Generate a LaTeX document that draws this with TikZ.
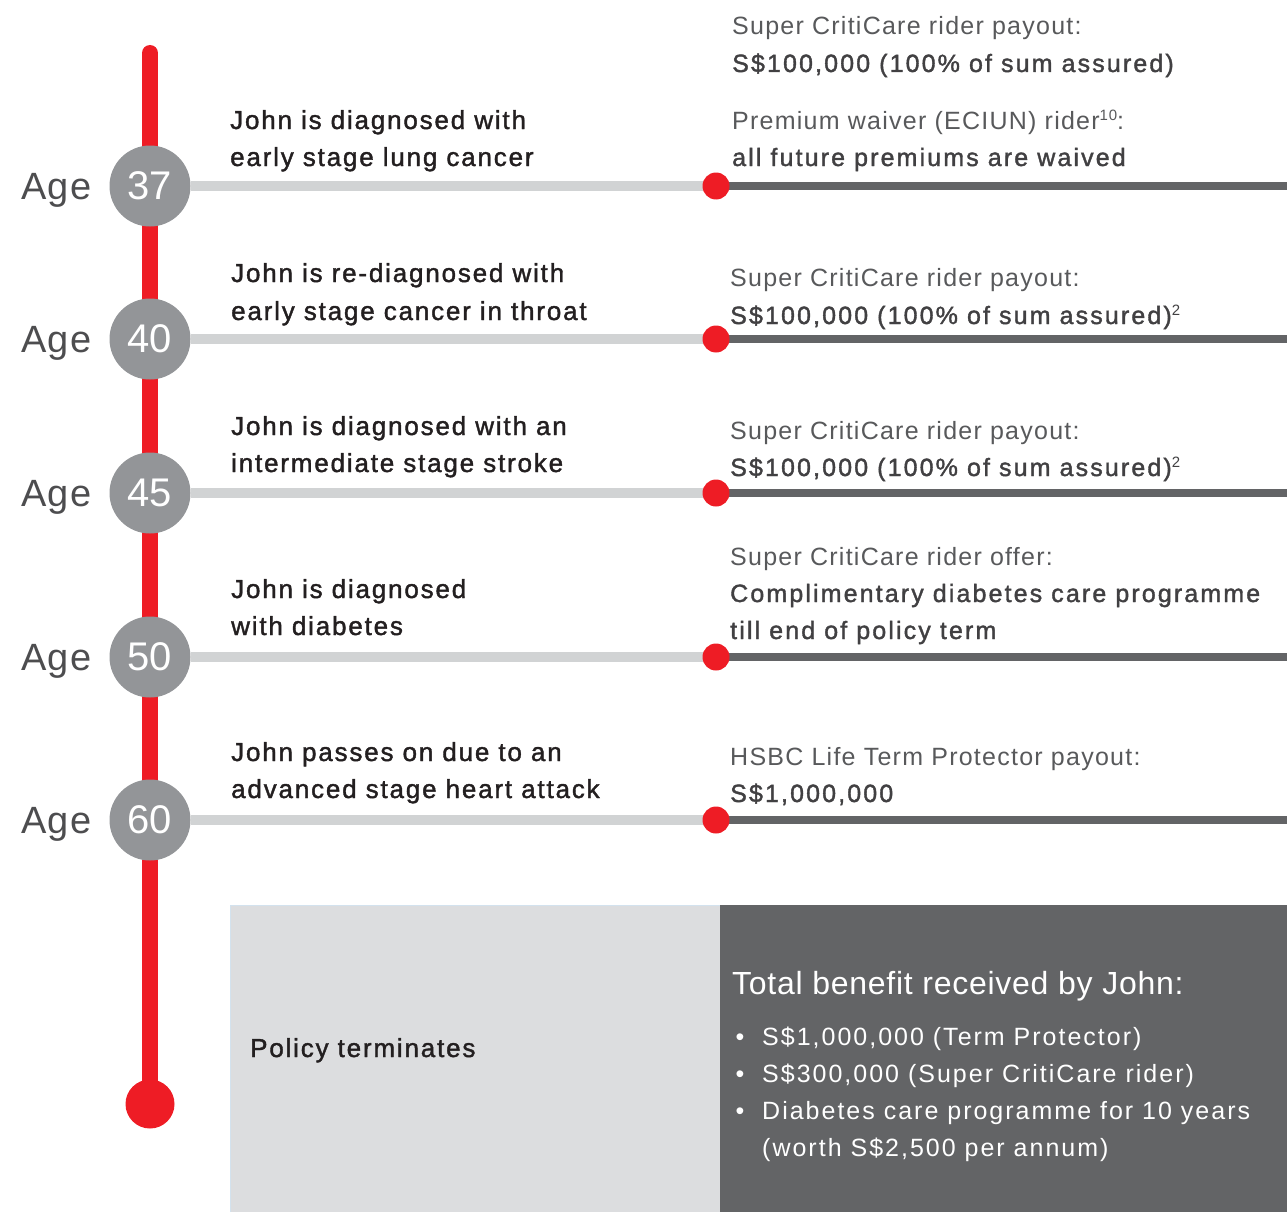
\documentclass[tikz,border=0pt]{standalone}
\usepackage{fontspec}
\setmainfont{Liberation Sans}
\newfontfamily\medfont{Liberation Sans}[FakeBold=1.5, LetterSpace=7]
\newfontfamily\rbfont{Liberation Sans}[FakeBold=1.5, LetterSpace=8.5]
\newfontfamily\regfont{Liberation Sans}[LetterSpace=5]
\newfontfamily\bulfont{Liberation Sans}[LetterSpace=8]
\newfontfamily\agefont{Liberation Sans}[LetterSpace=4]
\newfontfamily\titfont{Liberation Sans}[LetterSpace=2.3]
\usetikzlibrary{backgrounds}
\definecolor{hsred}{HTML}{EE1C25}
\definecolor{circgrey}{HTML}{939598}
\definecolor{lgline}{HTML}{D1D3D4}
\definecolor{dgline}{HTML}{636466}
\definecolor{agegrey}{HTML}{4D4D4F}
\definecolor{textgrey}{HTML}{58595B}
\definecolor{darktext}{HTML}{414042}
\definecolor{nearblack}{HTML}{231F20}
\definecolor{boxlight}{HTML}{DCDDDF}
\definecolor{boxedge}{HTML}{D3E2EE}
\definecolor{boxdark}{HTML}{636466}
\begin{document}
\begin{tikzpicture}[x=1pt,y=-1pt,
  agelbl/.style={anchor=base east, inner sep=0, font=\agefont\fontsize{38}{40}\selectfont, text=agegrey},
  agecirc/.style={circle, fill=circgrey, minimum size=81pt, inner sep=0, text=white, font=\fontsize{40}{40}\selectfont},
  reddot/.style={circle, fill=hsred, minimum size=27pt, inner sep=0},
  enddot/.style={circle, fill=hsred, minimum size=49pt, inner sep=0},
  evtxt/.style={anchor=base west, inner sep=0, font=\medfont\fontsize{26}{30}\selectfont, text=nearblack},
  lighttxt/.style={anchor=base west, inner sep=0, font=\regfont\fontsize{25}{30}\selectfont, text=textgrey},
  boldtxt/.style={anchor=base west, inner sep=0, font=\rbfont\fontsize{25}{30}\selectfont, text=darktext},
  whitetxt/.style={anchor=base west, inner sep=0, font=\bulfont\fontsize{25}{30}\selectfont, text=white},
  bullettxt/.style={anchor=base, inner sep=0, font=\fontsize{25}{30}\selectfont, text=white},
  lightline/.style={line width=10pt, draw=lgline},
  darkline/.style={line width=8pt, draw=dgline},
  redline/.style={line width=16pt, draw=hsred, line cap=round}
]
\useasboundingbox (0,0) rectangle (1287,1212);

% timeline nodes
\coordinate (top) at (150,53);
\node[enddot] (endd) at (150,1104) {};
\foreach \a/\y in {37/186,40/339,45/493,50/657,60/820} {
  \node[agecirc] (c\a) at (150,\y) {\a};
  \node[reddot] (d\a) at (716,\y) {};
  \coordinate (e\a) at (1287,\y);
  \node[agelbl] (age\a) at (92,\y+13) {Age};
}

\begin{pgfonlayer}{background}
  \draw[redline] (top) -- (endd.center);
  \foreach \a in {37,40,45,50,60} {
    \draw[lightline] (c\a) -- (d\a.center);
    \draw[darkline] (d\a.center) -- (e\a);
  }
\end{pgfonlayer}

% left event texts
\node[evtxt] (l37a) at (230,129) {John is diagnosed with};
\node[evtxt] (l37b) at (230,166) {early stage lung cancer};
\node[evtxt] (l40a) at (231,282) {John is re-diagnosed with};
\node[evtxt] (l40b) at (231,320) {early stage cancer in throat};
\node[evtxt] (l45a) at (231,435) {John is diagnosed with an};
\node[evtxt] (l45b) at (231,472) {intermediate stage stroke};
\node[evtxt] (l50a) at (231,598) {John is diagnosed};
\node[evtxt] (l50b) at (231,635) {with diabetes};
\node[evtxt] (l60a) at (231,761) {John passes on due to an};
\node[evtxt] (l60b) at (231,798) {advanced stage heart attack};

% right benefit texts
\node[lighttxt] (r37a) at (732,35) {Super CritiCare rider payout:};
\node[boldtxt]  (r37b) at (732,72) {S\$100,000 (100\% of sum assured)};
\node[lighttxt] (r37c) at (732,129) {Premium waiver (ECIUN) rider{\fontsize{15}{15}\selectfont\raisebox{9pt}{10}}:};
\node[boldtxt]  (r37d) at (732,166) {all future premiums are waived};
\node[lighttxt] (r40a) at (730,286) {Super CritiCare rider payout:};
\node[boldtxt]  (r40b) at (730,324) {S\$100,000 (100\% of sum assured){\regfont\fontsize{15}{15}\selectfont\raisebox{9pt}{2}}};
\node[lighttxt] (r45a) at (730,439) {Super CritiCare rider payout:};
\node[boldtxt]  (r45b) at (730,476) {S\$100,000 (100\% of sum assured){\regfont\fontsize{15}{15}\selectfont\raisebox{9pt}{2}}};
\node[lighttxt] (r50a) at (730,565) {Super CritiCare rider offer:};
\node[boldtxt]  (r50b) at (730,602) {Complimentary diabetes care programme};
\node[boldtxt]  (r50c) at (730,639) {till end of policy term};
\node[lighttxt] (r60a) at (730,765) {HSBC Life Term Protector payout:};
\node[boldtxt]  (r60b) at (730,802) {S\$1,000,000};

% bottom boxes
\node[draw=boxedge, line width=1pt, fill=boxlight, anchor=north west, minimum width=490pt, minimum height=310pt, inner sep=0] (polbox) at (230,905) {};
\node[fill=boxdark, anchor=north west, minimum width=567pt, minimum height=310pt, inner sep=0] (totbox) at (720,905) {};
\node[evtxt] (pol) at (250,1057) {Policy terminates};
\node[anchor=base west, inner sep=0, font=\titfont\fontsize{32}{36}\selectfont, text=white] (tot) at (732,994) {Total benefit received by John:};
\node[bullettxt] (b1) at (740,1045) {•};
\node[bullettxt] (b2) at (740,1082) {•};
\node[bullettxt] (b3) at (740,1119) {•};
\node[whitetxt] (t1) at (762,1045) {S\$1,000,000 (Term Protector)};
\node[whitetxt] (t2) at (762,1082) {S\$300,000 (Super CritiCare rider)};
\node[whitetxt] (t3) at (762,1119) {Diabetes care programme for 10 years};
\node[whitetxt] (t4) at (762,1156) {(worth S\$2,500 per annum)};
\end{tikzpicture}
\end{document}
